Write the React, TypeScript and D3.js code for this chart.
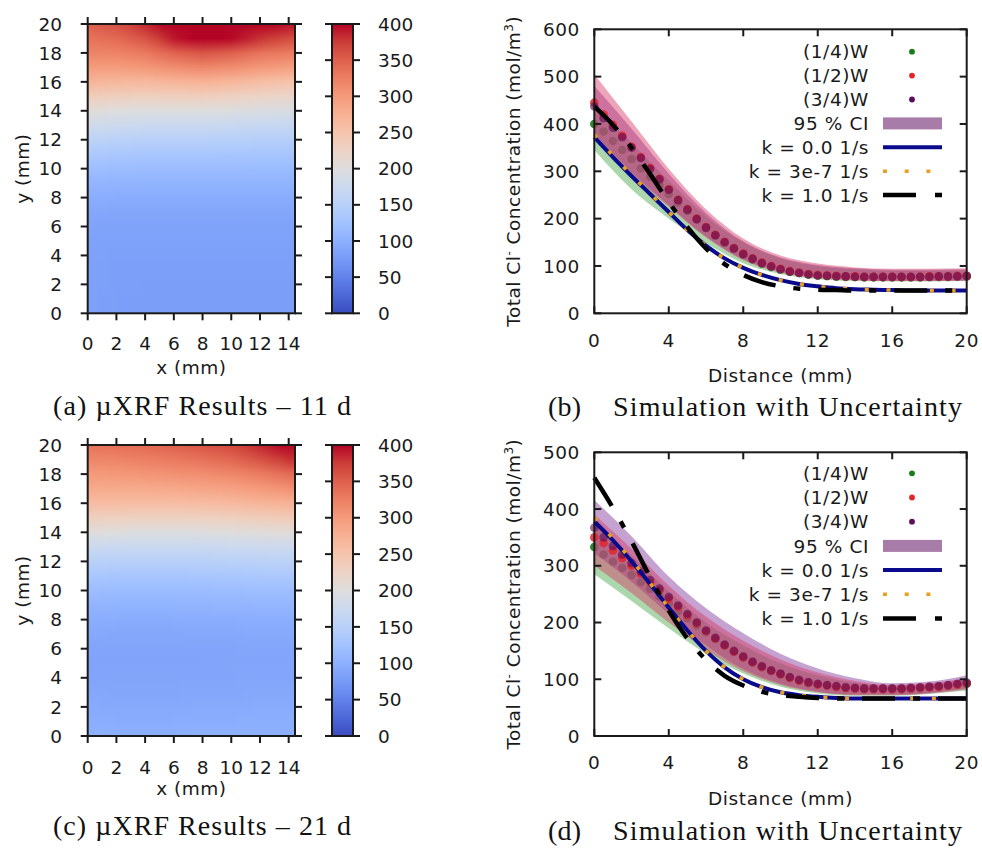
import React from "react";
import * as d3 from "d3";

// ---------------- DATA ----------------
const dotDist = [0, 0.5, 1, 1.5, 2, 2.5, 3, 3.5, 4, 4.5, 5, 5.5, 6, 6.5, 7, 7.5, 8, 8.5, 9, 9.5, 10, 10.5, 11, 11.5, 12, 12.5, 13, 13.5, 14, 14.5, 15, 15.5, 16, 16.5, 17, 17.5, 18, 18.5, 19, 19.5, 20];
const lineDist = [0, 1, 2, 3, 4, 5, 6, 7, 8, 9, 10, 11, 12, 13, 14, 15, 16, 17, 18, 19, 20];
const bandDist = [0, 2, 4, 6, 8, 10, 12, 14, 16, 18, 20];

// (b) 11 d measured points
const dotsB_w14 = [400, 384, 364, 345, 326, 306, 288, 270, 252, 234, 216, 198, 180, 164, 149, 136, 124, 114, 105, 98, 92, 88, 85, 82, 80, 79, 78, 77, 77, 76, 76, 76, 76, 76, 76, 76, 77, 77, 77, 78, 78];
const dotsB_w12 = [445, 420, 398, 375, 352, 330, 307, 284, 262, 240, 220, 200, 182, 166, 151, 138, 126, 116, 107, 100, 94, 89, 86, 83, 81, 80, 79, 78, 78, 77, 77, 77, 77, 77, 77, 77, 78, 78, 78, 79, 79];
const dotsB_w34 = [437, 412, 392, 372, 350, 328, 305, 283, 261, 239, 219, 199, 181, 165, 150, 137, 125, 115, 106, 99, 93, 88, 85, 82, 80, 79, 78, 78, 77, 77, 77, 77, 77, 77, 77, 77, 77, 78, 78, 78, 79];
// (b) 95% CI bands
const ciB_w14_lo = [345, 262, 200, 148, 106, 83, 72, 68, 67, 67, 68];
const ciB_w14_hi = [440, 360, 280, 205, 150, 116, 100, 93, 90, 90, 91];
const ciB_w12_lo = [375, 295, 225, 160, 112, 86, 74, 70, 68, 68, 69];
const ciB_w12_hi = [505, 405, 305, 220, 158, 122, 105, 97, 94, 94, 95];
const ciB_w34_lo = [380, 298, 228, 162, 114, 88, 76, 71, 69, 69, 70];
const ciB_w34_hi = [480, 390, 295, 212, 152, 118, 102, 95, 92, 92, 93];
// (b) model curves
const kB_0 = [372, 330, 290, 252, 214, 176, 143, 116, 96, 81, 70, 62, 57, 53, 51, 50, 49, 48, 48, 48, 48];
const kB_3e7 = [378, 333, 292, 253, 214, 176, 143, 116, 96, 81, 70, 62, 57, 53, 51, 50, 49, 48, 48, 48, 48];
const kB_1 = [437, 398, 350, 294, 235, 182, 137, 104, 81, 66, 57, 52, 50, 49, 48, 48, 48, 48, 48, 48, 48];

// (d) 21 d measured points
const dotsD_w14 = [333, 320, 307, 296, 284, 271, 259, 246, 233, 220, 207, 195, 183, 171, 159, 148, 138, 129, 121, 114, 108, 102, 97, 93, 90, 88, 86, 84, 83, 82, 82, 82, 82, 82, 83, 84, 85, 86, 88, 90, 92];
const dotsD_w12 = [350, 340, 327, 314, 300, 286, 271, 257, 242, 228, 213, 199, 185, 172, 160, 149, 139, 130, 122, 115, 109, 103, 98, 94, 91, 89, 87, 85, 84, 83, 83, 83, 83, 83, 84, 85, 86, 87, 89, 91, 93];
const dotsD_w34 = [367, 350, 335, 320, 305, 290, 275, 260, 245, 230, 215, 200, 186, 173, 161, 150, 140, 131, 123, 116, 110, 104, 99, 95, 92, 90, 88, 86, 85, 84, 84, 84, 84, 84, 85, 86, 87, 88, 90, 92, 94];
const ciD_w14_lo = [285, 238, 190, 145, 110, 87, 75, 71, 71, 74, 80];
const ciD_w14_hi = [375, 318, 255, 200, 160, 128, 107, 94, 88, 91, 100];
const ciD_w12_lo = [300, 252, 200, 152, 114, 90, 77, 72, 72, 75, 82];
const ciD_w12_hi = [390, 330, 265, 210, 168, 135, 112, 97, 90, 93, 102];
const ciD_w34_lo = [322, 272, 215, 160, 118, 92, 78, 73, 73, 76, 84];
const ciD_w34_hi = [416, 352, 281, 225, 181, 145, 119, 102, 93, 96, 107];
const kD_0 = [378, 345, 308, 268, 226, 186, 150, 121, 100, 86, 77, 72, 69, 67, 66, 66, 66, 66, 66, 66, 66];
const kD_3e7 = [385, 348, 310, 269, 226, 186, 150, 121, 100, 86, 77, 72, 69, 67, 66, 66, 66, 66, 66, 66, 66];
const kD_1 = [455, 402, 343, 280, 221, 172, 134, 106, 89, 78, 72, 69, 67, 66, 66, 66, 66, 66, 66, 66, 66];

// heat maps: rows y = 0..20 mm, columns x = 0,2,...,14 mm
const heatX = [0, 2, 4, 6, 8, 10, 12, 14];
const heatY = [0, 1, 2, 3, 4, 5, 6, 7, 8, 9, 10, 11, 12, 13, 14, 15, 16, 17, 18, 19, 20];
const heatA = [
  [82, 80, 80, 80, 80, 80, 80, 80],
  [82, 80, 80, 80, 80, 80, 80, 80],
  [82, 81, 80, 80, 80, 80, 80, 80],
  [82, 81, 81, 81, 81, 81, 81, 81],
  [83, 82, 82, 82, 82, 82, 82, 82],
  [84, 83, 83, 83, 83, 83, 83, 83],
  [86, 85, 85, 85, 85, 85, 85, 85],
  [90, 89, 89, 89, 89, 89, 89, 89],
  [97, 96, 96, 96, 96, 96, 96, 96],
  [107, 106, 105, 105, 105, 105, 105, 105],
  [120, 118, 117, 117, 117, 117, 116, 116],
  [137, 134, 132, 132, 132, 131, 130, 130],
  [158, 153, 151, 151, 151, 149, 148, 148],
  [181, 176, 173, 173, 173, 171, 169, 168],
  [205, 200, 198, 199, 199, 197, 194, 192],
  [236, 232, 230, 232, 233, 229, 224, 220],
  [270, 267, 265, 270, 273, 268, 258, 252],
  [298, 298, 302, 312, 318, 312, 302, 296],
  [320, 322, 330, 348, 358, 350, 335, 328],
  [335, 342, 360, 392, 405, 398, 380, 365],
  [350, 362, 385, 410, 420, 415, 405, 395],
];
const heatC = [
  [100, 99, 99, 99, 100, 100, 101, 101],
  [97, 96, 96, 96, 97, 97, 98, 98],
  [93, 92, 92, 92, 93, 93, 94, 94],
  [90, 89, 89, 89, 90, 90, 91, 91],
  [88, 87, 87, 87, 88, 88, 89, 89],
  [87, 86, 86, 86, 87, 87, 88, 88],
  [88, 87, 87, 87, 88, 88, 89, 89],
  [91, 90, 90, 90, 91, 91, 92, 92],
  [97, 96, 96, 96, 97, 97, 98, 98],
  [106, 105, 105, 105, 106, 107, 108, 108],
  [118, 116, 116, 116, 117, 118, 120, 120],
  [133, 131, 131, 131, 132, 133, 135, 136],
  [152, 150, 150, 150, 151, 152, 154, 155],
  [175, 172, 171, 171, 172, 174, 176, 177],
  [203, 200, 198, 198, 199, 201, 204, 206],
  [232, 230, 228, 228, 229, 232, 236, 239],
  [260, 260, 259, 259, 261, 264, 270, 274],
  [282, 283, 283, 285, 288, 292, 300, 308],
  [300, 302, 305, 308, 312, 318, 328, 340],
  [318, 320, 325, 330, 336, 345, 360, 380],
  [335, 338, 342, 350, 358, 368, 385, 405],
];

const heatXTicks = [0, 2, 4, 6, 8, 10, 12, 14];
const heatYTicks = [0, 2, 4, 6, 8, 10, 12, 14, 16, 18, 20];
const cbarTicks = [0, 50, 100, 150, 200, 250, 300, 350, 400];
const profXTicks = [0, 4, 8, 12, 16, 20];
const profYTicksB = [0, 100, 200, 300, 400, 500, 600];
const profYTicksD = [0, 100, 200, 300, 400, 500];
const legendLabels = ["(1/4)W", "(1/2)W", "(3/4)W", "95 % CI", "k = 0.0 1/s", "k = 3e-7 1/s", "k = 1.0 1/s"];

// coolwarm colormap control points
const cmapT = [0, 0.0625, 0.125, 0.1875, 0.25, 0.3125, 0.375, 0.4375, 0.5, 0.5625, 0.625, 0.6875, 0.75, 0.8125, 0.875, 0.9375, 1];
const cmapRGB = [
  "rgb(59,76,192)", "rgb(77,104,215)", "rgb(98,130,234)", "rgb(119,154,247)", "rgb(141,176,254)",
  "rgb(163,194,255)", "rgb(184,208,249)", "rgb(204,217,238)", "rgb(221,221,221)", "rgb(236,211,197)",
  "rgb(245,196,173)", "rgb(247,177,148)", "rgb(244,154,123)", "rgb(236,127,99)", "rgb(222,96,77)",
  "rgb(203,62,56)", "rgb(180,4,38)",
];

// ---------------- STYLE ----------------
const SANS = "'DejaVu Sans', Verdana, sans-serif";
const SERIF = "'Liberation Serif', 'Times New Roman', serif";
const INK = "#1a1a1a";
const C_GREEN = "#1b7a1b";
const C_RED = "#e3262c";
const C_PURPLE = "#5a0e5c";
const C_BLUE = "#0a0a8c";
const C_ORANGE = "#e8a01e";
const FS = 18.5;

const cmap: any = d3
  .scaleLinear()
  .domain(cmapT.map((t) => t * 400))
  .range(cmapRGB as any)
  .interpolate(d3.interpolateRgb as any)
  .clamp(true);

// ---------------- HEAT PANEL ----------------
function HeatPanel(props: any) {
  const { id, grid, top, bottom, dataRight, tickLabelY, axisLabelY } = props;
  const left = 87.7;
  const right = 295;
  const x = d3.scaleLinear().domain([0, 14.44]).range([left, right]);
  const y = d3.scaleLinear().domain([0, 20]).range([bottom, top]);
  const cbL = 332, cbR = 353;
  const cy = d3.scaleLinear().domain([0, 400]).range([bottom, top]);

  const strips: any[] = [];
  const xEnd = x(dataRight);
  let k = 0;
  for (let px = left; px < xEnd - 0.01; px += 2, k++) {
    const w = Math.min(2, xEnd - px);
    const xv = x.invert(px + w / 2);
    let i = 0;
    while (i < heatX.length - 2 && xv > heatX[i + 1]) i++;
    const f = Math.max(0, Math.min(1, (xv - heatX[i]) / (heatX[i + 1] - heatX[i])));
    const stops = heatY
      .map((yv, j) => ({
        o: (y(yv) - top) / (bottom - top),
        c: cmap(grid[j][i] * (1 - f) + grid[j][i + 1] * f),
      }))
      .sort((a, b) => a.o - b.o);
    strips.push({ gid: `${id}-g${k}`, x: px, w, stops });
  }

  return (
    <g>
      <defs>
        {strips.map((s) => (
          <linearGradient key={s.gid} id={s.gid} x1="0" y1="0" x2="0" y2="1">
            {s.stops.map((st: any, j: number) => (
              <stop key={j} offset={st.o} stopColor={st.c} />
            ))}
          </linearGradient>
        ))}
        <linearGradient id={`${id}-cb`} x1="0" y1="1" x2="0" y2="0">
          {cmapT.map((t, j) => (
            <stop key={j} offset={t} stopColor={cmapRGB[j]} />
          ))}
        </linearGradient>
      </defs>
      <rect x={left} y={top} width={right - left} height={bottom - top} fill="#fff" />
      {strips.map((s) => (
        <rect key={s.gid} x={s.x} y={top} width={s.w + 0.6} height={bottom - top} fill={`url(#${s.gid})`} shapeRendering="crispEdges" />
      ))}
      <rect x={left} y={top} width={right - left} height={bottom - top} fill="none" stroke={INK} strokeWidth={2} />
      {heatXTicks.map((t) => (
        <g key={"xt" + t}>
          <line x1={x(t)} x2={x(t)} y1={bottom} y2={bottom + 7} stroke={INK} strokeWidth={2} />
          <line x1={x(t)} x2={x(t)} y1={top} y2={top - 7} stroke={INK} strokeWidth={2} />
          <text x={x(t)} y={tickLabelY} dy="0.36em" textAnchor="middle" fontFamily={SANS} fontSize={FS} fill={INK}>
            {t}
          </text>
        </g>
      ))}
      {heatYTicks.map((t) => (
        <g key={"yt" + t}>
          <line x1={left - 7} x2={left} y1={y(t)} y2={y(t)} stroke={INK} strokeWidth={2} />
          <line x1={right} x2={right + 7} y1={y(t)} y2={y(t)} stroke={INK} strokeWidth={2} />
          <text x={62} y={y(t)} dy="0.36em" textAnchor="end" fontFamily={SANS} fontSize={FS} fill={INK}>
            {t}
          </text>
        </g>
      ))}
      <text x={(left + right) / 2} y={axisLabelY} dy="0.36em" textAnchor="middle" fontFamily={SANS} fontSize={FS} fill={INK} letterSpacing={0.5}>
        x (mm)
      </text>
      <text
        transform={`translate(22,${(top + bottom) / 2}) rotate(-90)`}
        dy="0.36em"
        textAnchor="middle"
        fontFamily={SANS}
        fontSize={FS}
        fill={INK}
        letterSpacing={0.5}
      >
        y (mm)
      </text>
      {/* colour bar */}
      <rect x={cbL} y={top} width={cbR - cbL} height={bottom - top} fill={`url(#${id}-cb)`} stroke={INK} strokeWidth={2} />
      {cbarTicks.map((t) => (
        <g key={"cb" + t}>
          <line x1={cbL - 7} x2={cbL} y1={cy(t)} y2={cy(t)} stroke={INK} strokeWidth={2} />
          <line x1={cbR} x2={cbR + 7} y1={cy(t)} y2={cy(t)} stroke={INK} strokeWidth={2} />
          <text x={378} y={cy(t)} dy="0.36em" textAnchor="start" fontFamily={SANS} fontSize={FS} fill={INK}>
            {t}
          </text>
        </g>
      ))}
    </g>
  );
}

// ---------------- PROFILE PANEL ----------------
function ProfilePanel(props: any) {
  const { top, bottom, yMax, yTicks, dots, bands, lines, legendTop, legendStep, tickLabelY, axisLabelY } = props;
  const left = 594.3;
  const right = 966.7;
  const x = d3.scaleLinear().domain([0, 20]).range([left, right]);
  const y = d3.scaleLinear().domain([0, yMax]).range([bottom, top]);

  const area = d3
    .area()
    .x((d: any) => x(d.d))
    .y0((d: any) => y(d.lo))
    .y1((d: any) => y(d.hi))
    .curve(d3.curveMonotoneX);
  const line = d3
    .line()
    .x((d: any) => x(d.d))
    .y((d: any) => y(d.v))
    .curve(d3.curveMonotoneX);

  const bandPath = (lo: number[], hi: number[]) => (area as any)(bandDist.map((d, i) => ({ d, lo: lo[i], hi: hi[i] }))) as string;
  const linePath = (vals: number[]) => (line as any)(lineDist.map((d, i) => ({ d, v: vals[i] }))) as string;

  const dotGroup = (vals: number[], color: string, op: number, key: string) => (
    <g key={key} fill={color} fillOpacity={op}>
      {vals.map((v: number, i: number) => (
        <circle key={i} cx={x(dotDist[i])} cy={y(v)} r={4.3} />
      ))}
    </g>
  );
  const lx0 = 883, lx1 = 942, ldot = 912, ltx = 869;
  const ly = (i: number) => legendTop + i * legendStep;

  return (
    <g>
      {/* (1/4)W points sit beneath the bands */}
      {dotGroup(dots[0], C_GREEN, 0.9, "g14")}
      {/* confidence bands */}
      <path d={bandPath(bands.w14lo, bands.w14hi)} fill="rgb(90,175,90)" fillOpacity={0.5} />
      <path d={bandPath(bands.w34lo, bands.w34hi)} fill="rgb(140,70,160)" fillOpacity={0.5} />
      <path d={bandPath(bands.w12lo, bands.w12hi)} fill="rgb(215,55,100)" fillOpacity={0.45} />
      {dotGroup(dots[1], C_RED, 0.85, "g12")}
      {dotGroup(dots[2], C_PURPLE, 0.62, "g34")}
      {/* model curves */}
      <path d={linePath(lines.k0)} fill="none" stroke={C_BLUE} strokeWidth={4} />
      <path d={linePath(lines.k3)} fill="none" stroke={C_ORANGE} strokeWidth={3.6} strokeDasharray="4,17.7" />
      <path d={linePath(lines.k1)} fill="none" stroke="#000" strokeWidth={4.5} strokeDasharray="33,18,7,18" />
      {/* frame & ticks */}
      <rect x={left} y={top} width={right - left} height={bottom - top} fill="none" stroke={INK} strokeWidth={2} />
      {profXTicks.map((t) => (
        <g key={"xt" + t}>
          <line x1={x(t)} x2={x(t)} y1={bottom} y2={bottom - 7} stroke={INK} strokeWidth={2} />
          <line x1={x(t)} x2={x(t)} y1={top} y2={top + 7} stroke={INK} strokeWidth={2} />
          <text x={x(t)} y={tickLabelY} dy="0.36em" textAnchor="middle" fontFamily={SANS} fontSize={FS} fill={INK} letterSpacing={0.6}>
            {t}
          </text>
        </g>
      ))}
      {yTicks.map((t: number) => (
        <g key={"yt" + t}>
          <line x1={left} x2={left + 7} y1={y(t)} y2={y(t)} stroke={INK} strokeWidth={2} />
          <line x1={right} x2={right - 7} y1={y(t)} y2={y(t)} stroke={INK} strokeWidth={2} />
          <text x={580} y={y(t)} dy="0.36em" textAnchor="end" fontFamily={SANS} fontSize={FS} fill={INK} letterSpacing={0.6}>
            {t}
          </text>
        </g>
      ))}
      <text x={(left + right) / 2} y={axisLabelY} dy="0.36em" textAnchor="middle" fontFamily={SANS} fontSize={FS} fill={INK} letterSpacing={0.6}>
        Distance (mm)
      </text>
      <text
        transform={`translate(513,${(top + bottom) / 2}) rotate(-90)`}
        dy="0.36em"
        textAnchor="middle"
        fontFamily={SANS}
        fontSize={FS}
        fill={INK}
        letterSpacing={0.5}
      >
        <tspan>Total Cl</tspan>
        <tspan dy={-7} fontSize={12}>-</tspan>
        <tspan dy={7}> Concentration (mol/m</tspan>
        <tspan dy={-7} fontSize={12}>3</tspan>
        <tspan dy={7}>)</tspan>
      </text>
      {/* legend */}
      {legendLabels.map((lab, i) => (
        <text key={"lg" + i} x={ltx} y={ly(i)} dy="0.36em" textAnchor="end" fontFamily={SANS} fontSize={FS} fill={INK} letterSpacing={0.6}>
          {lab}
        </text>
      ))}
      <circle cx={ldot} cy={ly(0)} r={2.9} fill={C_GREEN} />
      <circle cx={ldot} cy={ly(1)} r={2.9} fill={C_RED} />
      <circle cx={ldot} cy={ly(2)} r={2.9} fill={C_PURPLE} />
      <rect x={lx0} y={ly(3) - 6} width={lx1 - lx0} height={12} fill="rgb(168,124,168)" />
      <line x1={lx0} x2={lx1} y1={ly(4)} y2={ly(4)} stroke={C_BLUE} strokeWidth={4} />
      <line x1={lx0} x2={lx1} y1={ly(5)} y2={ly(5)} stroke={C_ORANGE} strokeWidth={3.6} strokeDasharray="4,17.7" />
      <line x1={lx0} x2={lx1} y1={ly(6)} y2={ly(6)} stroke="#000" strokeWidth={4.5} strokeDasharray="33,19,7,100" />
    </g>
  );
}

function Caption(props: any) {
  const { x, y, text, length } = props;
  return (
    <text x={x} y={y} fontFamily={SERIF} fontSize={28} fill="#111" textLength={length} lengthAdjust="spacing">
      {text}
    </text>
  );
}

export default function App() {
  return (
    <svg width={982} height={848} style={{ position: "absolute", left: 0, top: 0, background: "#fff" }} xmlns="http://www.w3.org/2000/svg">
      <rect x={0} y={0} width={982} height={848} fill="#fff" />
      <HeatPanel id="ha" grid={heatA} top={24} bottom={313.3} dataRight={14.44} tickLabelY={343} axisLabelY={367} />
      <HeatPanel id="hc" grid={heatC} top={445} bottom={736} dataRight={14.3} tickLabelY={767} axisLabelY={788} />
      <ProfilePanel
        top={29.3}
        bottom={313.3}
        yMax={600}
        yTicks={profYTicksB}
        dots={[dotsB_w14, dotsB_w12, dotsB_w34]}
        bands={{ w14lo: ciB_w14_lo, w14hi: ciB_w14_hi, w12lo: ciB_w12_lo, w12hi: ciB_w12_hi, w34lo: ciB_w34_lo, w34hi: ciB_w34_hi }}
        lines={{ k0: kB_0, k3: kB_3e7, k1: kB_1 }}
        legendTop={51.7}
        legendStep={23.9}
        tickLabelY={340}
        axisLabelY={375}
      />
      <ProfilePanel
        top={452.3}
        bottom={736}
        yMax={500}
        yTicks={profYTicksD}
        dots={[dotsD_w14, dotsD_w12, dotsD_w34]}
        bands={{ w14lo: ciD_w14_lo, w14hi: ciD_w14_hi, w12lo: ciD_w12_lo, w12hi: ciD_w12_hi, w34lo: ciD_w34_lo, w34hi: ciD_w34_hi }}
        lines={{ k0: kD_0, k3: kD_3e7, k1: kD_1 }}
        legendTop={473.3}
        legendStep={24.2}
        tickLabelY={762}
        axisLabelY={798}
      />
      <Caption x={53} y={415} text="(a) µXRF Results – 11 d" length={298} />
      <Caption x={53} y={835} text="(c) µXRF Results – 21 d" length={298} />
      <Caption x={548} y={416} text="(b)" length={33} />
      <Caption x={613} y={416} text="Simulation with Uncertainty" length={349} />
      <Caption x={548} y={840} text="(d)" length={33} />
      <Caption x={613} y={840} text="Simulation with Uncertainty" length={349} />
    </svg>
  );
}
